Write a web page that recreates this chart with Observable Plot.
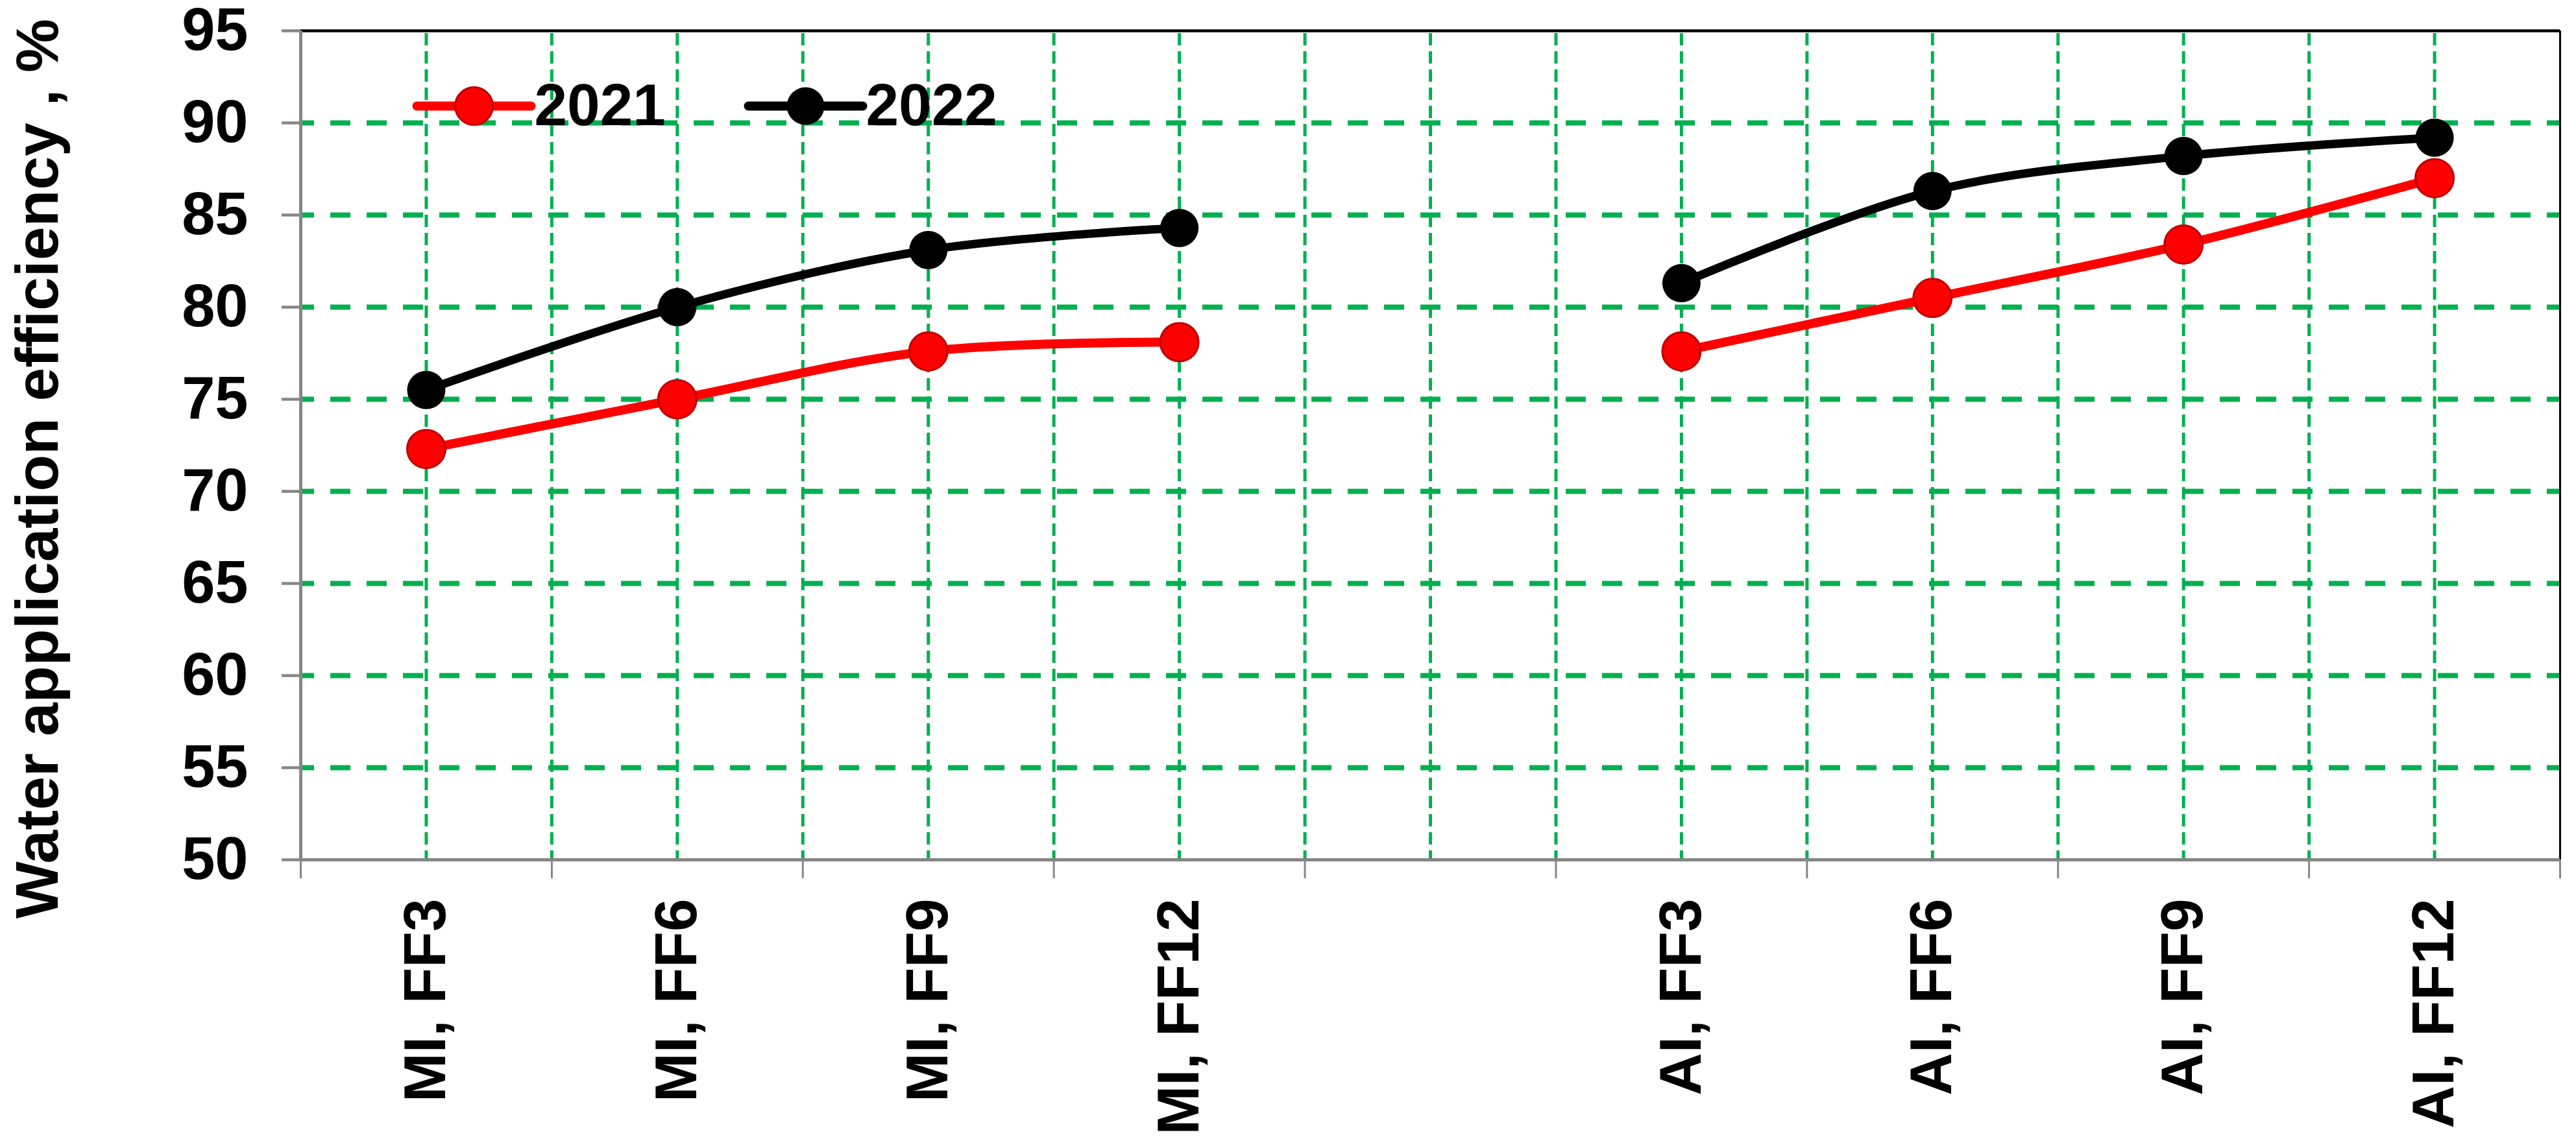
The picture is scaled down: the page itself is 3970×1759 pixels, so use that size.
<!DOCTYPE html>
<html>
<head>
<meta charset="utf-8">
<script src="https://cdn.jsdelivr.net/npm/d3@7"></script>
<script src="https://cdn.jsdelivr.net/npm/@observablehq/plot@0.6"></script>
<style>
  html, body { margin: 0; padding: 0; background: #ffffff; }
  #chart svg { display: block; }
</style>
</head>
<body>
<div id="chart"></div>
<script>
// ---- Data ----
const categories = ["MI, FF3", "MI, FF6", "MI, FF9", "MI, FF12", "", "AI, FF3", "AI, FF6", "AI, FF9", "AI, FF12"];
const values2021 = [72.3, 75.0, 77.6, 78.1, null, 77.6, 80.5, 83.4, 87.0];
const values2022 = [75.5, 80.0, 83.1, 84.3, null, 81.3, 86.3, 88.2, 89.2];
const yTicks = [50, 55, 60, 65, 70, 75, 80, 85, 90, 95];
const seriesNames = ["2021", "2022"];
const seriesColors = ["#FF0000", "#000000"];
const yTitle = "Water application efficiency , %";

// ---- Derived tables ----
const rows = categories.map((c, i) => ({i, cat: c, v2021: values2021[i], v2022: values2022[i]}));
const seriesValues = {"2021": "v2021", "2022": "v2022"};
const labelIdx = categories.map((c, i) => i).filter(i => categories[i] !== "");
const boundaries = categories.map((c, i) => i - 0.5).concat([categories.length - 0.5]);
const gridXs = categories.flatMap((c, i) => i < categories.length - 1 ? [i, i + 0.5] : [i]);

// ---- Layout / style ----
const W = 3970, H = 1759;
const FONT = "'Liberation Sans', Arial, Helvetica, sans-serif";
const GREEN = "#00B050";
const GREY = "#868686";
const xDomain = [-0.5, categories.length - 0.5];
const yDomain = [yTicks[0], yTicks[yTicks.length - 1]];

const lineSymbol = {draw(ctx) { ctx.moveTo(-88, 0); ctx.lineTo(88, 0); }};

const legendMarks = seriesNames.flatMap((name, k) => {
  const cx = 267 + k * 511, cy = 116;
  const isRed = k === 0;
  return [
    Plot.dot([name], {frameAnchor: "top-left", dx: cx, dy: cy, symbol: lineSymbol, r: 10,
      fill: "none", stroke: seriesColors[k], strokeWidth: 14, strokeLinecap: "round"}),
    Plot.dot([name], {frameAnchor: "top-left", dx: cx, dy: cy, r: 29, fill: seriesColors[k],
      stroke: isRed ? "#C00000" : "none", strokeWidth: 3}),
    Plot.text([name], {frameAnchor: "top-left", dx: cx + 93, dy: cy, textAnchor: "start", lineAnchor: "middle",
      fontSize: 91, fontWeight: "bold", fontFamily: FONT, fill: "black"})
  ];
});

const seriesMarks = seriesNames.flatMap((name, k) => {
  const isRed = k === 0;
  return [
    Plot.line(rows, {x: "i", y: seriesValues[name], curve: "catmull-rom", stroke: seriesColors[k],
      strokeWidth: isRed ? 14 : 13, strokeLinejoin: "round", strokeLinecap: "round"}),
    Plot.dot(rows.filter(d => d[seriesValues[name]] != null), {x: "i", y: seriesValues[name], r: 29.5,
      fill: seriesColors[k], stroke: isRed ? "#C00000" : "none", strokeWidth: 3})
  ];
});

const chart = Plot.plot({
  width: W,
  height: H,
  marginLeft: 463,
  marginRight: 25,
  marginTop: 47,
  marginBottom: 434,
  style: {fontFamily: FONT, fontSize: "91px", fontWeight: "bold", background: "#ffffff", color: "black", overflow: "visible"},
  x: {type: "linear", domain: xDomain},
  y: {type: "linear", domain: yDomain},
  marks: [
    // grid
    Plot.gridX(gridXs.filter(v => v > xDomain[0] && v < xDomain[1]), {stroke: GREEN, strokeOpacity: 1, strokeWidth: 5,
      strokeDasharray: "19,9", strokeDashoffset: 24}),
    Plot.gridY(yTicks.slice(1, -1), {stroke: GREEN, strokeOpacity: 1, strokeWidth: 8,
      strokeDasharray: "31,25", strokeDashoffset: 10}),
    // plot-area border (top & right black) and axes (left & bottom grey)
    Plot.ruleY([yDomain[1]], {stroke: "black", strokeWidth: 4.5}),
    Plot.ruleX([xDomain[1]], {stroke: "black", strokeWidth: 3}),
    Plot.ruleX([xDomain[0]], {stroke: GREY, strokeWidth: 5}),
    Plot.ruleY([yDomain[0]], {stroke: GREY, strokeWidth: 5}),
    // y axis
    Plot.axisY(yTicks, {tickSize: 29, tickPadding: 52, stroke: GREY, strokeWidth: 4.5, color: "black",
      fontSize: 92, fontWeight: "bold", fontFamily: FONT, label: null}),
    // x axis tick marks at category boundaries
    Plot.axisX(boundaries, {tickSize: 29, stroke: GREY, strokeWidth: 3, tickFormat: () => "", label: null}),
    // x axis labels
    Plot.axisX(labelIdx, {tickSize: 0, tickPadding: 60, tickRotate: -90, tickFormat: i => categories[i],
      color: "black", fontSize: 91, fontWeight: "bold", fontFamily: FONT, label: null}),
    // series
    ...seriesMarks,
    // legend
    ...legendMarks,
    // y title
    Plot.text([yTitle], {frameAnchor: "left", dx: -404, dy: 36, rotate: -90, textAnchor: "middle",
      lineAnchor: "middle", fontSize: 93, fontWeight: "bold", fontFamily: FONT, fill: "black"})
  ]
});

document.getElementById("chart").appendChild(chart);
</script>
</body>
</html>
